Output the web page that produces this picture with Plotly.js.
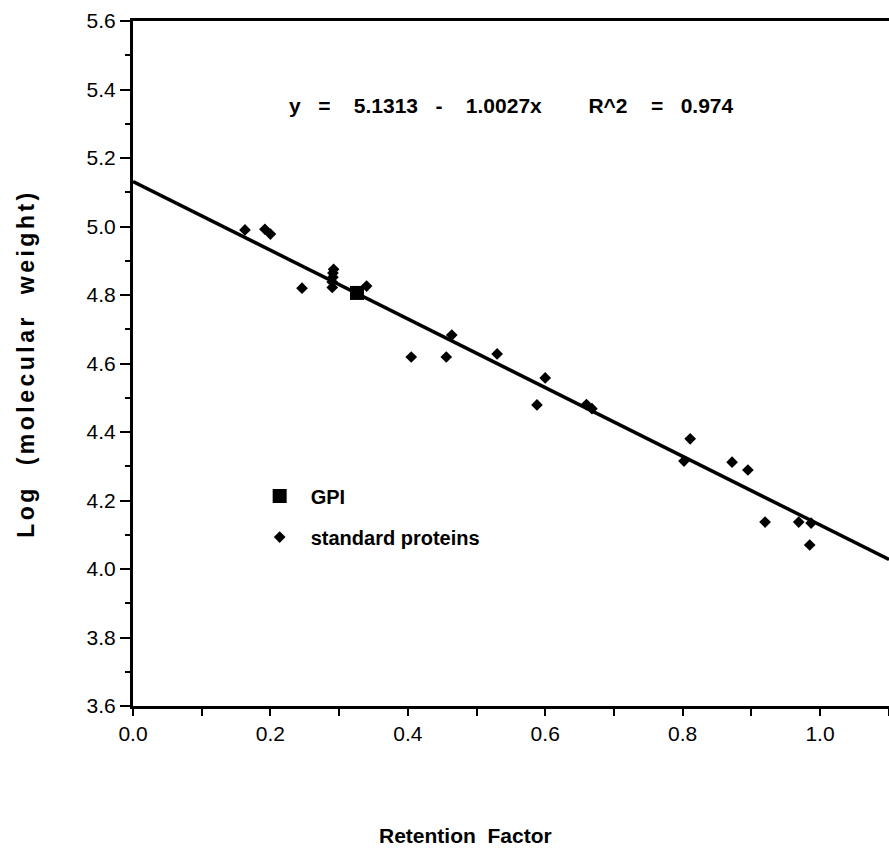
<!DOCTYPE html>
<html>
<head>
<meta charset="utf-8">
<script src="https://cdn.plot.ly/plotly-3.0.1.min.js"></script>
<style>
html,body{margin:0;padding:0;background:#fff;}
#chart{width:889px;height:852px;}
#chart .ytitle{letter-spacing:3.5px;}
</style>
</head>
<body>
<div id="chart"></div>
<script>
// Standard proteins (retention factor, log MW)
const stdX = [0.163, 0.192, 0.200, 0.246, 0.290, 0.290, 0.291, 0.291, 0.292, 0.340, 0.405, 0.456, 0.464, 0.530, 0.588, 0.600, 0.660, 0.668, 0.802, 0.811, 0.872, 0.895, 0.920, 0.969, 0.985, 0.987];
const stdY = [4.990, 4.992, 4.978, 4.820, 4.822, 4.838, 4.852, 4.864, 4.875, 4.826, 4.619, 4.619, 4.683, 4.628, 4.479, 4.558, 4.480, 4.468, 4.315, 4.380, 4.312, 4.289, 4.137, 4.137, 4.070, 4.134];
// GPI
const gpiX = [0.326];
const gpiY = [4.806];
// Regression
const intercept = 5.1313;
const slope = -1.0027;
const r2 = 0.974;
const fitX = [0, 1.1004];
const fitY = fitX.map(x => intercept + slope * x);

const nb = n => '\u00a0'.repeat(n);
const eqText = 'y' + nb(3) + '=' + nb(4) + intercept.toFixed(4) + nb(3) + '-' + nb(4) + Math.abs(slope).toFixed(4) + 'x' + nb(8) + 'R^2' + nb(4) + '=' + nb(3) + r2.toFixed(3);

const font = 'Liberation Sans, Arial, Helvetica, sans-serif';

const traces = [
  {x: fitX, y: fitY, mode: 'lines', line: {color: '#000', width: 3.5}, showlegend: false, hoverinfo: 'skip'},
  {x: gpiX, y: gpiY, mode: 'markers', name: '<b>GPI</b>', legendgroup: 'g1', marker: {symbol: 'square', size: 14, color: '#000'}},
  {x: stdX, y: stdY, mode: 'markers', name: '<b>standard proteins</b>', legendgroup: 'g2', marker: {symbol: 'diamond', size: 9, color: '#000'}}
];

const layout = {
  width: 889, height: 852,
  margin: {l: 133, r: 0, t: 21, b: 146},
  paper_bgcolor: '#fff', plot_bgcolor: '#fff',
  font: {family: font, color: '#000', size: 20},
  showlegend: true,
  legend: {x: 0.153, y: 0.335, xanchor: 'left', yanchor: 'top', bgcolor: 'rgba(0,0,0,0)',
           font: {family: font, size: 20, color: '#000'}, itemsizing: 'trace', itemwidth: 52,
           traceorder: 'grouped', tracegroupgap: 12},
  xaxis: {
    range: [0, 1.1004], dtick: 0.2, tickformat: '.1f',
    showgrid: false, zeroline: false,
    showline: true, linecolor: '#000', linewidth: 3, mirror: true,
    ticks: 'outside', ticklen: 7, tickwidth: 2, tickcolor: '#000',
    minor: {dtick: 0.1, ticks: 'outside', ticklen: 7, tickwidth: 2, tickcolor: '#000'},
    tickfont: {family: font, size: 21, color: '#000'}
  },
  yaxis: {
    range: [3.6, 5.6], dtick: 0.2, tickformat: '.1f',
    showgrid: false, zeroline: false,
    showline: true, linecolor: '#000', linewidth: 3,
    ticks: 'outside', ticklen: 10, tickwidth: 2, tickcolor: '#000',
    minor: {dtick: 0.1, ticks: 'outside', ticklen: 5, tickwidth: 2, tickcolor: '#000'},
    tickfont: {family: font, size: 21, color: '#000'},
    title: {text: '<b>Log  (molecular  weight)</b>', font: {family: font, size: 23, color: '#000'}, standoff: 46}
  },
  annotations: [
    {text: '<b>' + eqText + '</b>', xref: 'paper', yref: 'paper', x: 0.501, y: (706 - 106) / 685,
     xanchor: 'center', yanchor: 'middle', showarrow: false, font: {family: font, size: 21, color: '#000'}},
    {text: '<b>Retention' + nb(2) + 'Factor</b>', xref: 'paper', yref: 'paper', x: (465 - 133) / 756, y: (706 - 835) / 685,
     xanchor: 'center', yanchor: 'middle', showarrow: false, font: {family: font, size: 21, color: '#000'}}
  ]
};

Plotly.newPlot('chart', traces, layout, {displayModeBar: false, staticPlot: true});
</script>
</body>
</html>
